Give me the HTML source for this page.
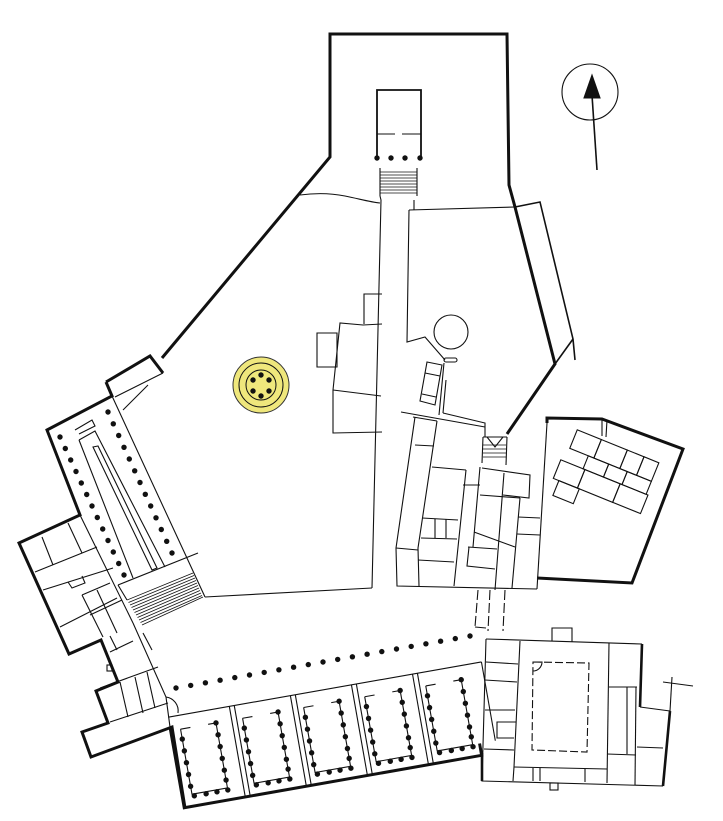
<!DOCTYPE html>
<html><head><meta charset="utf-8"><style>html,body{margin:0;padding:0;background:#fff}svg{display:block}</style></head>
<body>
<svg width="723" height="821" viewBox="0 0 723 821" xmlns="http://www.w3.org/2000/svg" fill="none" stroke="#111" stroke-width="1.1" stroke-linejoin="miter">
<defs><circle id="d" r="2.7" fill="#111" stroke="none"/></defs>

<!-- outer north enclosure -->
<polyline points="162,358 330,157 330,34 507,34 509,185 515,207 555,364 507,434" stroke-width="3"/>
<polyline points="515,207 540,202 573,339 575,360" stroke-width="1.6"/>
<line x1="555" y1="364" x2="573" y2="339" stroke-width="1.6"/>
<!-- north temple -->
<polyline points="377,158 377,90 421,90 421,158" stroke-width="1.8"/>
<line x1="377" y1="134" x2="395" y2="134"/><line x1="402" y1="134" x2="421" y2="134"/>
<use href="#d" x="377" y="158"/><use href="#d" x="391" y="158"/><use href="#d" x="405" y="158"/><use href="#d" x="420" y="158"/>
<g stroke-width="0.8"><line x1="380" y1="172" x2="417" y2="172"/><line x1="380" y1="175" x2="417" y2="175"/><line x1="380" y1="178" x2="417" y2="178"/><line x1="380" y1="181" x2="417" y2="181"/><line x1="380" y1="184" x2="417" y2="184"/><line x1="380" y1="187" x2="417" y2="187"/><line x1="380" y1="190" x2="417" y2="190"/><line x1="380" y1="193" x2="417" y2="193"/></g>
<line x1="380" y1="168" x2="380" y2="196"/><line x1="417" y1="168" x2="417" y2="196"/>
<path d="M300,195 C315,193 330,193 345,196 C360,199 370,202 380,203"/>
<polyline points="380,196 381,200 372,588"/>
<polyline points="409,210 407,342 425,337 445,360"/>
<line x1="409" y1="210" x2="515" y2="207"/>
<line x1="414" y1="200" x2="414" y2="210"/>
<circle cx="451" cy="332" r="17"/>
<rect x="444" y="358" width="13" height="4" rx="2"/>
<polygon points="427,362 442,365 435,405 420,401"/>
<line x1="425" y1="373" x2="440" y2="376"/><line x1="422" y1="394" x2="436" y2="397"/>
<line x1="444" y1="363" x2="439" y2="415"/><line x1="446" y1="380" x2="443" y2="413"/>
<polyline points="443,413 485,423 485,437"/><polyline points="401,412 485,427"/>
<!-- yellow tholos -->
<circle cx="261" cy="385" r="28" fill="#efe77c" stroke="#333" stroke-width="1"/>
<circle cx="261" cy="385" r="22" stroke-width="1"/><circle cx="261" cy="385" r="15" stroke-width="1"/>
<use href="#d" x="253" y="380"/><use href="#d" x="261" y="375"/><use href="#d" x="269" y="380"/><use href="#d" x="253" y="391"/><use href="#d" x="261" y="396"/><use href="#d" x="269" y="391"/>
<!-- north arrow -->
<circle cx="590" cy="92" r="28"/>
<line x1="597" y1="170" x2="592" y2="95" stroke-width="1.6"/>
<polygon points="592,75 584,98 600,98" fill="#111"/>
<!-- west rooms of corridor -->
<polyline points="364,324 364,294 382,294"/><polyline points="382,324 363,325 340,323 333,390 333,433 382,432"/>
<polygon points="317,333 337,333 337,367 317,367"/>
<line x1="333" y1="390" x2="381" y2="396"/>
<!-- central complex -->
<polyline points="413,417 437,421"/>
<polyline points="415,417 396,548 397,586 537,589"/>
<polyline points="437,421 418,548 419,586"/>
<line x1="547" y1="423" x2="537" y2="589"/>
<polyline points="547,423 547,418 602,419 683,449 632,583 537,578" stroke-width="3"/>
<line x1="507" y1="437" x2="483" y2="437"/><line x1="483" y1="437" x2="482" y2="463"/><line x1="507" y1="437" x2="506" y2="465"/>
<g stroke-width="0.8"><line x1="483" y1="445" x2="506" y2="445"/><line x1="483" y1="449" x2="506" y2="449"/><line x1="483" y1="453" x2="506" y2="453"/><line x1="483" y1="457" x2="506" y2="457"/></g>
<polyline points="487,437 495,447 503,437"/>
<line x1="432" y1="467" x2="466" y2="470"/><line x1="466" y1="470" x2="454" y2="586"/>
<line x1="480" y1="467" x2="473" y2="547"/><line x1="504" y1="473" x2="495" y2="590"/>
<polyline points="482,468 530,475 529,498 503,495"/><line x1="520" y1="498" x2="512" y2="588"/>
<line x1="418" y1="560" x2="454" y2="562"/><line x1="422" y1="518" x2="458" y2="520"/><line x1="421" y1="538" x2="457" y2="539"/>
<line x1="435" y1="519" x2="435" y2="538"/><line x1="446" y1="519" x2="446" y2="538"/>
<line x1="396" y1="548" x2="418" y2="550"/>
<line x1="463" y1="485" x2="480" y2="485"/><line x1="480" y1="495" x2="520" y2="498"/>
<line x1="474" y1="532" x2="515" y2="547"/><line x1="468" y1="547" x2="497" y2="549"/><polyline points="469,547 467,566 495,569"/>
<line x1="518" y1="517" x2="540" y2="518"/><line x1="517" y1="534" x2="540" y2="535"/>
<line x1="415" y1="445" x2="434" y2="446"/>
<!-- east block inner rooms -->
<g transform="translate(602,470) rotate(22)">
<rect x="-38" y="-28" width="26" height="20"/><rect x="-12" y="-28" width="28" height="20"/><rect x="16" y="-28" width="18" height="20"/><rect x="34" y="-28" width="16" height="20"/>
<rect x="-18" y="-8" width="22" height="14"/><rect x="4" y="-8" width="20" height="14"/><rect x="24" y="-8" width="26" height="14"/>
<rect x="-42" y="6" width="26" height="20"/><rect x="-16" y="6" width="38" height="20"/><rect x="22" y="6" width="30" height="20"/>
<rect x="-36" y="26" width="22" height="16"/>
</g>
<line x1="602" y1="419" x2="602" y2="436"/><line x1="607" y1="420" x2="606" y2="437"/>
<!-- passage -->
<g stroke-dasharray="10,3"><line x1="478" y1="590" x2="475" y2="627"/><line x1="490" y1="590" x2="488" y2="631"/><line x1="505" y1="590" x2="503" y2="631"/></g>
<line x1="475" y1="627" x2="486" y2="628"/>
<!-- SE building -->
<polyline points="486,639 642,644" /><polyline points="642,644 640,707" stroke-width="2.6"/>
<polyline points="640,707 670,711"/><polyline points="670,711 663,786" stroke-width="2.6"/>
<polyline points="663,786 482,781 486,639"/><line x1="482" y1="753" x2="482" y2="781" stroke-width="2.6"/>
<polyline points="552,641 552,628 572,628 572,642"/><rect x="550" y="783" width="8" height="7"/>
<line x1="520" y1="641" x2="514" y2="767"/><line x1="514" y1="767" x2="607" y2="769"/><line x1="609" y1="643" x2="607" y2="783"/>
<polygon points="533,662 589,663 587,752 532,750" stroke-dasharray="8,3"/>
<path d="M533,662 h9 a9,9 0 0 1 -9,9"/>
<line x1="609" y1="687" x2="637" y2="687"/><line x1="627" y1="687" x2="627" y2="754"/><line x1="607" y1="754" x2="636" y2="755"/><line x1="636" y1="687" x2="635" y2="785"/><line x1="637" y1="747" x2="663" y2="748"/>
<line x1="486" y1="662" x2="518" y2="664"/><line x1="485" y1="680" x2="517" y2="682"/><line x1="485" y1="710" x2="515" y2="710"/><line x1="484" y1="749" x2="514" y2="750"/>
<polyline points="516,722 497,722 497,738 514,738"/>
<line x1="514" y1="767" x2="513" y2="781"/><line x1="533" y1="768" x2="533" y2="781"/><line x1="540" y1="768" x2="540" y2="781"/><line x1="585" y1="769" x2="585" y2="782"/>
<line x1="663" y1="682" x2="693" y2="686"/><line x1="672" y1="677" x2="670" y2="711"/>
<!-- left wing outline -->
<polyline points="106,382 150,356 163,373" stroke-width="3"/>
<polyline points="106,382 112,396 47,430 80,515 19,543 69,654 101,640 118,682 96,691 108,723 82,732 91,757 172,727 185,808" stroke-width="3"/>
<line x1="112" y1="396" x2="205" y2="597"/>
<line x1="115" y1="397" x2="163" y2="373"/><line x1="123" y1="410" x2="148" y2="385"/>
<line x1="205" y1="597" x2="372" y2="588"/>
<polyline points="133,623 166,697 170,727"/>
<line x1="143" y1="633" x2="152" y2="650"/>
<line x1="80" y1="515" x2="133" y2="623"/>
<!-- left wing colonnade -->
<polyline points="79,440 95,431 165,567"/><line x1="79" y1="440" x2="133" y2="578"/>
<polygon points="93,447 98,446 157,568 152,570"/>
<polyline points="75,430 92,420 95,426 79,434"/>
<line x1="118" y1="585" x2="198" y2="553"/><line x1="118" y1="585" x2="127" y2="600"/>
<g stroke-width="0.8">
<line x1="127" y1="600" x2="193" y2="573"/><line x1="128.5" y1="602.5" x2="194" y2="575.5"/><line x1="130" y1="605" x2="195" y2="578"/><line x1="131.5" y1="607.5" x2="196" y2="580.5"/><line x1="133" y1="610" x2="197" y2="583"/><line x1="134.5" y1="612.5" x2="198" y2="585.5"/><line x1="136" y1="615" x2="199" y2="588"/><line x1="137.5" y1="617.5" x2="200" y2="590.5"/><line x1="139" y1="620" x2="201" y2="593"/><line x1="140.5" y1="622.5" x2="202" y2="595.5"/><line x1="142" y1="625" x2="203" y2="597"/>
</g>
<use href="#d" x="60" y="437"/><use href="#d" x="65.3" y="448.5"/><use href="#d" x="70.7" y="460"/><use href="#d" x="76" y="471.5"/><use href="#d" x="81.3" y="483"/><use href="#d" x="86.7" y="494.5"/><use href="#d" x="92" y="506"/><use href="#d" x="97.3" y="517.5"/><use href="#d" x="102.7" y="529"/><use href="#d" x="108" y="540.5"/><use href="#d" x="113.3" y="552"/><use href="#d" x="118.7" y="563.5"/><use href="#d" x="124" y="575"/>
<use href="#d" x="108" y="412"/><use href="#d" x="113.3" y="423.8"/><use href="#d" x="118.7" y="435.5"/><use href="#d" x="124" y="447.3"/><use href="#d" x="129.3" y="459"/><use href="#d" x="134.7" y="470.8"/><use href="#d" x="140" y="482.5"/><use href="#d" x="145.3" y="494.3"/><use href="#d" x="150.7" y="506"/><use href="#d" x="156" y="517.8"/><use href="#d" x="161.3" y="529.5"/><use href="#d" x="166.7" y="541.3"/><use href="#d" x="172" y="553"/>
<!-- west rooms -->
<line x1="35" y1="572" x2="97" y2="547"/><line x1="43" y1="590" x2="113" y2="568"/><line x1="60" y1="627" x2="117" y2="598"/>
<line x1="42" y1="537" x2="53" y2="565"/><line x1="68" y1="523" x2="82" y2="553"/>
<polyline points="68,582 72,588 85,583 82,576"/>
<polyline points="82,595 103,637"/><line x1="82" y1="595" x2="110" y2="583"/><line x1="97" y1="590" x2="117" y2="633"/>
<line x1="90" y1="615" x2="122" y2="600"/><line x1="110" y1="652" x2="133" y2="641"/><line x1="117" y1="650" x2="110" y2="636"/>
<rect x="107" y="665" width="5" height="6"/>
<line x1="100" y1="688" x2="158" y2="667"/><line x1="110" y1="722" x2="168" y2="703"/>
<line x1="120" y1="682" x2="128" y2="717"/><line x1="135" y1="677" x2="143" y2="713"/><line x1="147" y1="672" x2="155" y2="708"/>
<path d="M166,697 a14,14 0 0 1 12,16"/>
<!-- south colonnade -->
<g>
<use href="#d" x="176" y="688"/><use href="#d" x="190.7" y="685.4"/><use href="#d" x="205.4" y="682.8"/><use href="#d" x="220.1" y="680.2"/><use href="#d" x="234.8" y="677.6"/><use href="#d" x="249.5" y="675"/><use href="#d" x="264.2" y="672.4"/><use href="#d" x="278.9" y="669.8"/><use href="#d" x="293.6" y="667.2"/><use href="#d" x="308.3" y="664.6"/><use href="#d" x="323" y="662"/><use href="#d" x="337.7" y="659.4"/><use href="#d" x="352.4" y="656.8"/><use href="#d" x="367.1" y="654.2"/><use href="#d" x="381.8" y="651.6"/><use href="#d" x="396.5" y="649"/><use href="#d" x="411.2" y="646.4"/><use href="#d" x="425.9" y="643.8"/><use href="#d" x="440.6" y="641.2"/><use href="#d" x="455.3" y="638.6"/><use href="#d" x="470" y="636"/>
</g>
<!-- south wing -->
<g transform="translate(170,727) rotate(-10)">
<line x1="0" y1="-10" x2="318" y2="-10"/>
<line x1="318" y1="-10" x2="318" y2="70"/>
<polyline points="0,0 0,82 302,82 302,70" stroke-width="3"/>
<line x1="62" y1="-10" x2="62" y2="82"/><line x1="67" y1="-10" x2="67" y2="82"/>
<line x1="124" y1="-10" x2="124" y2="82"/><line x1="129" y1="-10" x2="129" y2="82"/>
<line x1="186" y1="-10" x2="186" y2="82"/><line x1="191" y1="-10" x2="191" y2="82"/>
<line x1="248" y1="-10" x2="248" y2="82"/><line x1="253" y1="-10" x2="253" y2="82"/>
<g id="u">
<polyline points="10,4 10,70 46,70 46,4"/><line x1="10" y1="4" x2="20" y2="4"/><line x1="38" y1="4" x2="46" y2="4"/>
<use href="#d" x="10" y="14"/><use href="#d" x="10" y="26"/><use href="#d" x="10" y="38"/><use href="#d" x="10" y="50"/><use href="#d" x="10" y="62"/><use href="#d" x="12" y="72"/><use href="#d" x="24" y="72"/><use href="#d" x="35" y="72"/><use href="#d" x="46" y="72"/>
<use href="#d" x="46" y="4"/><use href="#d" x="46" y="16"/><use href="#d" x="46" y="28"/><use href="#d" x="46" y="40"/><use href="#d" x="46" y="52"/><use href="#d" x="46" y="62"/>
</g>
<use href="#u" x="63"/><use href="#u" x="125"/><use href="#u" x="187"/><use href="#u" x="249"/>
</g>
</svg>
</body></html>
